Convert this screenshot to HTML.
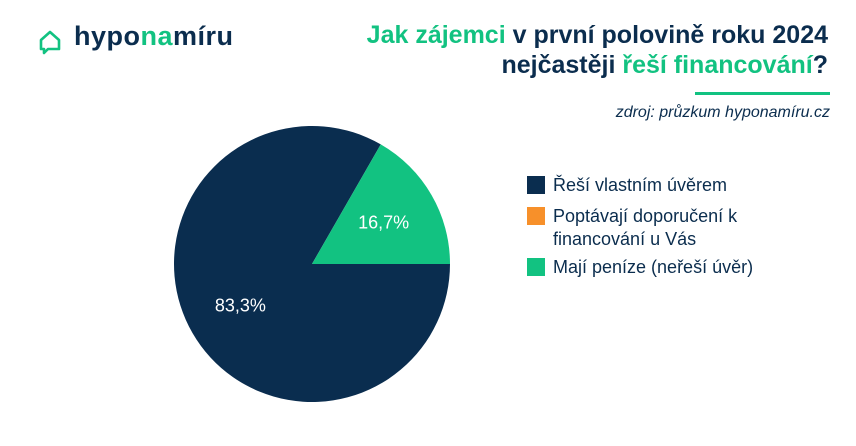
<!DOCTYPE html>
<html><head><meta charset="utf-8"><style>
body{margin:0;width:856px;height:446px;background:#fff;font-family:"Liberation Sans",sans-serif;overflow:hidden;position:relative}
.t{position:absolute;right:28px;text-align:right;font-weight:bold;font-size:25px;color:#0b2d4e;line-height:30px;white-space:nowrap}
.g{color:#12c281}
.leg{position:absolute;left:527px;font-size:18px;color:#0b2d4e;line-height:23px;white-space:nowrap}
.sw{position:absolute;left:0;top:2px;width:18px;height:18px}
</style></head><body>
<div style="position:absolute;left:38px;top:26px;height:30px">
<svg width="30" height="30" style="position:absolute;left:0;top:2px"><path d="M3 12 L12 4 L21 12 L21 21 L10 21 L6 25 L6 21 L3 21 Z" fill="none" stroke="#12c281" stroke-width="2.6" stroke-linejoin="round"/></svg>
<span style="position:absolute;left:36px;top:-5px;font-size:27px;font-weight:bold;color:#0b2d4e;white-space:nowrap;letter-spacing:0.5px">hypo<span class="g">na</span>míru</span>
</div>
<div class="t" style="top:20px"><span class="g">Jak zájemci</span> v první polovině roku 2024<br>nejčastěji <span class="g">řeší financování</span>?</div>
<div style="position:absolute;left:695px;top:92px;width:135px;height:3px;background:#12c281"></div>
<div style="position:absolute;right:26px;top:104px;font-size:16px;font-style:italic;color:#0b2d4e;white-space:nowrap">zdroj: průzkum hyponamíru.cz</div>
<svg id="pie" width="856" height="446" style="position:absolute;left:0;top:0"></svg>
<div class="leg" style="top:174px"><div class="sw" style="background:#0a2d4f"></div><div style="padding-left:26px">Řeší vlastním úvěrem</div></div>
<div class="leg" style="top:205px"><div class="sw" style="background:#f7902a"></div><div style="padding-left:26px">Poptávají doporučení k<br>financování u Vás</div></div>
<div class="leg" style="top:256px"><div class="sw" style="background:#12c281"></div><div style="padding-left:26px">Mají peníze (neřeší úvěr)</div></div>
<script>
const categories=["Řeší vlastním úvěrem","Poptávají doporučení k financování u Vás","Mají peníze (neřeší úvěr)"];
const values=[83.3,0,16.7];
const labels=["83,3%","","16,7%"];
const colors=["#0a2d4f","#f7902a","#12c281"];
const svg=document.getElementById('pie'),NS="http://www.w3.org/2000/svg";
const cx=312,cy=264,r=138;
const tot=values.reduce((a,b)=>a+b,0);
let a=Math.PI/2;
function pt(an,rr){return [cx+rr*Math.sin(an),cy-rr*Math.cos(an)];}
values.forEach((v,i)=>{
 if(v<=0)return;
 const s=a,e=a+v/tot*2*Math.PI;a=e;
 const p=document.createElementNS(NS,'path');
 const [x1,y1]=pt(s,r),[x2,y2]=pt(e,r);
 p.setAttribute('d',`M${cx},${cy}L${x1},${y1}A${r},${r} 0 ${e-s>Math.PI?1:0} 1 ${x2},${y2}Z`);
 p.setAttribute('fill',colors[i]);
 
 
 svg.appendChild(p);
 const [lx,ly]=pt((s+e)/2,r*0.6);
 const t=document.createElementNS(NS,'text');
 t.setAttribute('x',lx);t.setAttribute('y',ly+6);
 t.setAttribute('text-anchor','middle');t.setAttribute('fill','#fff');
 t.setAttribute('font-size','18');t.setAttribute('font-family','Liberation Sans, sans-serif');
 t.textContent=labels[i];
 
 
 svg.appendChild(t);
});
</script>
</body></html>
